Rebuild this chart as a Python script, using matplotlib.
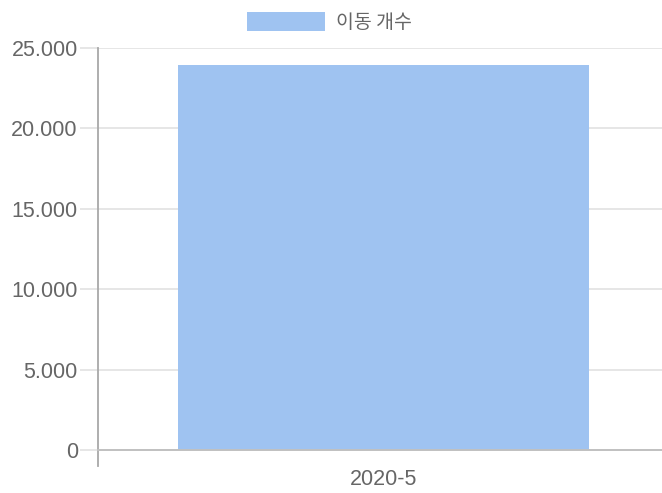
import matplotlib
matplotlib.use("Agg")
import matplotlib.pyplot as plt
from matplotlib.ticker import FuncFormatter, MultipleLocator

categories = ["2020-5"]
values = [23950]
series_name = "이동 개수"

plt.rcParams['font.family'] = ['Liberation Sans', 'Noto Sans CJK KR', 'DejaVu Sans']

W, H = 662, 493
fig = plt.figure(figsize=(W/100, H/100), dpi=100)
# chart area continues slightly past the right edge of the picture
ax = fig.add_axes([98/W, (H-450)/H, (669-98)/W, (450-48)/H])

bar_color = '#9fc3f1'
ax.bar(range(len(categories)), values, width=0.72, color=bar_color,
       edgecolor='none', label=series_name, zorder=1)
ax.set_xlim(-0.5, len(categories) - 0.5)
ax.set_ylim(0, 25000)
ax.yaxis.set_major_locator(MultipleLocator(5000))
ax.yaxis.set_major_formatter(FuncFormatter(lambda v, p: f"{int(v):,}".replace(",", ".")))
ax.set_xticks(range(len(categories)))
ax.set_xticklabels(categories)

grid_c = '#e6e6e6'
ax.grid(axis='y', color=grid_c, linewidth=1.4, zorder=0)
ax.set_axisbelow(True)
for s in ['top', 'right']:
    ax.spines[s].set_visible(False)
ax.spines['left'].set_color('#a8a8a8')
ax.spines['left'].set_linewidth(1.3)
ax.spines['bottom'].set_color('#c0c0c0')
ax.spines['bottom'].set_linewidth(1.4)
ax.tick_params(axis='y', length=13, width=1.4, color=grid_c, labelsize=15.5,
               labelcolor='#666666', pad=1.5)
ax.tick_params(axis='x', length=0, labelsize=15.5, labelcolor='#666666', pad=14)
yt = ax.yaxis.get_major_ticks()
if yt:
    yt[0].tick1line.set_color('#c0c0c0')
# left axis extension below the zero line
ax.plot([0, 0], [0, -16/402], transform=ax.transAxes, color='#a8a8a8',
        linewidth=1.3, clip_on=False)

leg = fig.legend(loc='upper left', bbox_to_anchor=(247/W, 1 - 12/H),
                 frameon=False, handlelength=4.0, handleheight=1.15,
                 handletextpad=0.6, borderpad=0, borderaxespad=0,
                 labelcolor='#666666', prop={'family': ['Noto Sans CJK KR'], 'size': 14})
fig.savefig("out.png", dpi=100)
